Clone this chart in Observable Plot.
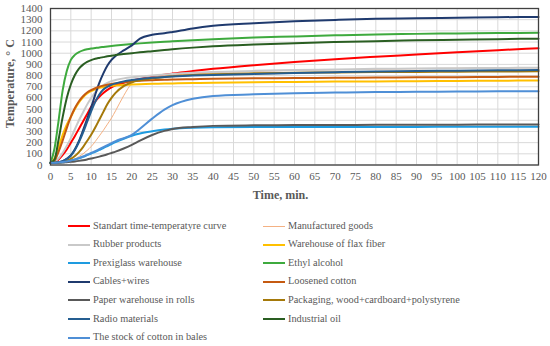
<!DOCTYPE html>
<html><head><meta charset="utf-8">
<script src="https://cdn.jsdelivr.net/npm/d3@7"></script>
<script src="https://cdn.jsdelivr.net/npm/@observablehq/plot@0.6"></script>
<style>
body{margin:0;background:#fff;}
#wrap{position:relative;width:550px;height:346px;font-family:"Liberation Serif","DejaVu Serif",serif;color:#595959;overflow:hidden;}
#chart{position:absolute;left:0;top:0;}
#chart svg, #chart svg text{font-family:"Liberation Serif","DejaVu Serif",serif;}
.li{position:absolute;font-size:10.3px;line-height:12px;white-space:pre;color:#595959;font-family:"Liberation Serif","DejaVu Serif",serif;}
.sw{position:absolute;height:0;}
</style></head><body><div id="wrap"><div id="chart"></div><div id="legend"></div></div>
<script>
// time grid (minutes)
const times = [0,1,2,3,4,5,6,7,8,9,10,11,12,13,14,15,16,18,20,22,25,28,30,35,40,50,60,70,80,90,100,110,120];

const standart     = [20,25,50,90,140,200,260,325,390,455,520,570,610,645,672,695,712,735,755,770,790,808,818,840,860,893,922,947,968,988,1008,1027,1045];
const manufactured = [20,20,22,25,30,40,55,75,100,130,165,210,260,310,365,420,485,620,730,765,785,798,805,815,825,838,846,852,858,862,865,868,870];
const rubber       = [20,30,60,110,170,240,320,400,470,540,600,650,690,715,735,750,760,775,785,792,800,810,815,825,832,842,850,855,860,863,866,868,870];
const flax         = [20,60,160,270,360,430,500,560,605,640,662,678,690,698,704,708,711,716,720,723,726,729,730,733,736,740,743,746,748,750,752,754,756];
const prexiglass   = [20,20,22,25,30,38,48,60,73,88,103,118,135,152,170,188,205,235,262,282,302,317,324,333,337,339,340,340,341,341,342,342,343];
const ethyl        = [20,150,400,670,840,940,985,1010,1025,1035,1042,1047,1052,1056,1060,1064,1068,1075,1082,1088,1096,1103,1107,1117,1126,1140,1150,1160,1168,1173,1177,1180,1182];
const cables       = [20,20,25,35,55,85,140,215,310,410,515,630,735,820,890,940,975,1025,1070,1130,1165,1178,1190,1222,1245,1268,1285,1298,1308,1313,1318,1322,1325];
const loosened     = [20,40,120,220,330,430,510,570,615,648,670,687,700,710,718,725,730,740,748,753,758,762,765,768,771,775,778,780,782,784,786,788,790];
const paper        = [20,20,20,22,25,28,32,37,43,50,58,66,75,85,96,108,120,148,180,218,268,305,322,340,350,355,357,358,359,360,361,362,363];
const packaging    = [20,20,22,28,38,55,80,115,160,215,270,335,405,475,545,600,645,705,740,758,775,788,795,805,812,820,825,828,831,833,835,836,838];
const radio        = [20,20,25,35,55,85,135,205,290,385,480,565,630,675,700,718,730,748,760,770,780,788,792,800,806,815,822,830,836,840,844,847,850];
const industrial   = [20,50,230,430,600,720,805,862,898,922,938,950,958,965,972,978,983,992,1000,1008,1018,1028,1035,1050,1062,1078,1090,1100,1108,1115,1121,1126,1130];
const cottonBales  = [20,20,22,26,32,40,50,62,76,92,108,124,142,160,178,196,214,240,270,325,415,495,535,592,618,632,642,648,652,655,657,659,660];

const seriesNames = [
  "Standart time-temperatyre curve","Manufactured goods",
  "Rubber products","Warehouse of flax fiber",
  "Prexiglass warehouse","Ethyl alcohol",
  "Cables+wires","Loosened cotton",
  "Paper warehouse in rolls","Packaging, wood+cardboard+polystyrene",
  "Radio materials","Industrial oil",
  "The stock of cotton in bales"
];
const seriesColors = ["#FF0000","#F4B183","#C9C9C9","#FFC000","#1E9BE0","#3EAA3E","#1F3A6E","#C55A11","#595959","#A5790A","#255E91","#2A5E22","#4F8FD6"];
const seriesWidths = [2,1,2,2,2,2,2,2,2,2,2,2,2];
const seriesValues = [standart,manufactured,rubber,flax,prexiglass,ethyl,cables,loosened,paper,packaging,radio,industrial,cottonBales];

const xTicks = [0,5,10,15,20,25,30,35,40,45,50,55,60,65,70,75,80,85,90,95,100,105,110,115,120];
const yTicks = [0,100,200,300,400,500,600,700,800,900,1000,1100,1200,1300,1400];

const lineMarks = seriesNames.map((name,i) => {
  const rows = times.map((t,j) => ({t, v: seriesValues[i][j]}));
  return Plot.line(rows, {x:"t", y:"v", stroke: seriesColors[i], strokeWidth: seriesWidths[i], curve:"monotone-x"});
});

const chart = Plot.plot({
  width:550, height:205,
  marginLeft:50, marginRight:12, marginTop:8, marginBottom:40.5,
  style:{fontFamily:"'Liberation Serif','DejaVu Serif',serif", fontSize:"11px", color:"#595959", background:"white", overflow:"visible"},
  x:{domain:[0,120]},
  y:{domain:[0,1400]},
  marks:[
    Plot.gridX(xTicks,{stroke:"#d9d9d9", strokeOpacity:1}),
    Plot.gridY(yTicks,{stroke:"#d9d9d9", strokeOpacity:1}),
    Plot.axisX(xTicks,{tickSize:0, tickPadding:7, label:null, fill:"#595959", tickFormat:d => String(d)}),
    Plot.axisY(yTicks,{tickSize:0, tickPadding:8, label:null, fill:"#595959", tickFormat:d => String(d)}),
    ...lineMarks,
    Plot.frame({stroke:"#404040", strokeWidth:1.3}),
    Plot.text(["Time, min."],{frameAnchor:"bottom", dx:-14, dy:30, textAnchor:"middle", lineAnchor:"middle", fontWeight:"bold", fontSize:12, fill:"#595959"}),
    Plot.text(["Temperature, ° C"],{frameAnchor:"left", dx:-40, dy:-3, textAnchor:"middle", lineAnchor:"middle", rotate:-90, fontWeight:"bold", fontSize:12, fill:"#595959"})
  ]
});
document.getElementById("chart").appendChild(chart);

// legend
const legend = document.getElementById("legend");
const rowY = [226,244.5,263,281.5,300,319,337.5];
seriesNames.forEach((name,i) => {
  const col = i % 2, row = Math.floor(i/2);
  const sx = col === 0 ? 68 : 263;
  const tx = col === 0 ? 93 : 288;
  const y = rowY[row];
  const sw = document.createElement("div");
  sw.className = "sw";
  sw.style.left = sx + "px";
  sw.style.width = "22px";
  sw.style.top = (y - seriesWidths[i]/2) + "px";
  sw.style.borderTop = seriesWidths[i] + "px solid " + seriesColors[i];
  legend.appendChild(sw);
  const lab = document.createElement("div");
  lab.className = "li";
  lab.style.left = tx + "px";
  lab.style.top = (y - 6.5) + "px";
  lab.textContent = name;
  legend.appendChild(lab);
});
</script></body></html>
